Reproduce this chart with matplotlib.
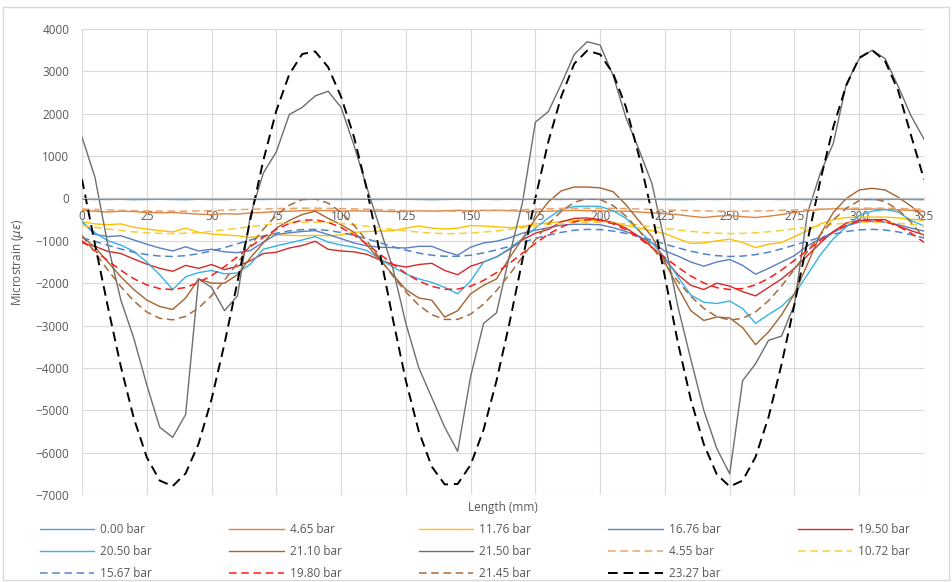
import matplotlib
matplotlib.use("Agg")
import matplotlib.pyplot as plt
from matplotlib.patches import Rectangle

plt.rcParams['font.family'] = ['Open Sans', 'DejaVu Sans']

# Length positions (mm)
length_mm = list(range(0, 330, 5))

# Measured series (solid)
bar_000 = [-20, -25, -25, -20, -30, -25, -20, -25, -30, -20, -25,
           -25, -20, -20, -25, -20, -20, -25, -20, -20, -25, -20,
           -20, -25, -20, -20, -25, -30, -25, -20, -25, -20, -25,
           -20, -25, -20, -20, -25, -20, -20, -25, -20, -20, -25,
           -20, -25, -30, -25, -20, -25, -20, -25, -20, -20, -25,
           -20, -25, -20, -20, -25, -20, -30, -25, -20, -25, -30]
bar_465 = [-280, -300, -320, -300, -310, -330, -340, -330, -350, -370, -380,
           -360, -370, -340, -330, -310, -300, -290, -280, -290, -300, -290,
           -300, -300, -310, -300, -290, -300, -290, -280, -290, -280, -280,
           -290, -300, -310, -300, -290, -280, -290, -290, -300, -300, -320,
           -340, -360, -380, -420, -450, -420, -400, -430, -450, -420, -380,
           -330, -290, -260, -240, -250, -260, -250, -260, -270, -280, -300]
bar_1176 = [-550, -600, -620, -600, -680, -720, -760, -790, -700, -800, -840,
            -860, -880, -920, -880, -860, -870, -880, -870, -880, -860, -800,
            -780, -770, -760, -700, -650, -700, -720, -700, -640, -650, -670,
            -690, -660, -600, -580, -540, -520, -510, -520, -570, -640, -700,
            -760, -830, -950, -1060, -1050, -1000, -960, -1040, -1160, -1080, -1040,
            -900, -760, -600, -500, -450, -440, -440, -440, -460, -490, -520]
bar_1676 = [-550, -850, -900, -880, -980, -1080, -1170, -1240, -1140, -1240, -1200,
            -1260, -1280, -1230, -1030, -850, -810, -780, -760, -850, -950, -1050,
            -1120, -1150, -1160, -1170, -1130, -1130, -1250, -1340, -1150, -1050, -1010,
            -930, -820, -750, -690, -630, -610, -610, -620, -690, -780, -900,
            -1050, -1240, -1360, -1500, -1600, -1500, -1440, -1580, -1790, -1650, -1500,
            -1350, -1120, -950, -800, -650, -560, -540, -560, -620, -700, -770]
bar_1950 = [-1050, -1130, -1250, -1300, -1430, -1550, -1650, -1720, -1580, -1650, -1560,
            -1680, -1600, -1470, -1300, -1270, -1170, -1110, -1010, -1200, -1240, -1260,
            -1320, -1450, -1560, -1620, -1560, -1530, -1700, -1800, -1600, -1500, -1380,
            -1200, -980, -820, -730, -550, -470, -460, -500, -570, -700, -900,
            -1150, -1440, -1800, -2050, -2150, -2000, -2070, -2200, -2300, -2100, -1900,
            -1650, -1350, -1050, -780, -580, -520, -500, -500, -650, -760, -860]
bar_2050 = [-550, -810, -1000, -1100, -1250, -1500, -1800, -2150, -1850, -1750, -1700,
            -1780, -1760, -1550, -1200, -1120, -1050, -980, -900, -1030, -1100, -1150,
            -1230, -1430, -1620, -1780, -1900, -1980, -2100, -2250, -1950, -1500, -1380,
            -1180, -950, -700, -460, -260, -190, -180, -190, -290, -470, -760,
            -1050, -1400, -1850, -2280, -2450, -2480, -2420, -2600, -2950, -2740, -2550,
            -2250, -1800, -1330, -950, -670, -400, -300, -260, -320, -520, -650]
bar_2110 = [-900, -1150, -1500, -1850, -2150, -2400, -2550, -2620, -2350, -1900, -2000,
            -2000, -1800, -1400, -1050, -700, -520, -380, -300, -470, -620, -800,
            -1100, -1450, -1800, -2150, -2350, -2400, -2800, -2650, -2250, -2050, -1900,
            -1400, -950, -480, -80, 180, 270, 270, 250, 160, -150, -530,
            -900, -1500, -2100, -2650, -2880, -2800, -2820, -3050, -3450, -3150, -2750,
            -2250, -1550, -850, -330, 0, 200, 240, 200, 30, -180, -450]
bar_2150 = [1450, 500, -1100, -2400, -3300, -4400, -5400, -5640, -5100, -1900, -2100,
            -2650, -2300, -400, 600, 1100, 1980, 2150, 2420, 2530, 2150, 1250,
            250, -700, -1650, -2950, -4000, -4700, -5400, -5970, -4200, -2950, -2700,
            -1350, -100, 1800, 2050, 2700, 3400, 3700, 3620, 2900, 1900, 1150,
            350, -1050, -2550, -3800, -5000, -5900, -6500, -4300, -3900, -3350, -3250,
            -2500, -350, 600, 1300, 2700, 3300, 3500, 3300, 2650, 1950, 1400]

# Model series (dashed)
bar_455 = [-250, -260, -270, -280, -290, -295, -300, -300, -300, -295, -285,
           -275, -265, -255, -250, -240, -235, -230, -230, -235, -240, -245,
           -255, -265, -275, -285, -290, -295, -300, -300, -295, -290, -285,
           -275, -265, -255, -245, -235, -230, -230, -230, -235, -240, -250,
           -260, -270, -280, -285, -295, -300, -300, -300, -295, -290, -280,
           -270, -260, -250, -240, -235, -230, -230, -230, -235, -245, -255]
bar_1072 = [-640, -680, -720, -755, -790, -810, -825, -830, -820, -805, -775,
            -740, -705, -665, -630, -595, -575, -560, -560, -570, -590, -620,
            -655, -695, -730, -765, -795, -820, -830, -830, -815, -795, -765,
            -730, -690, -650, -615, -590, -570, -560, -565, -575, -600, -630,
            -670, -705, -745, -775, -805, -820, -830, -825, -810, -785, -755,
            -715, -680, -640, -610, -580, -565, -560, -565, -585, -615, -645]
bar_1567 = [-925, -1015, -1105, -1195, -1270, -1325, -1360, -1370, -1350, -1305, -1240,
            -1160, -1070, -980, -890, -820, -765, -735, -730, -755, -805, -870,
            -955, -1045, -1140, -1220, -1290, -1340, -1365, -1365, -1340, -1285, -1215,
            -1130, -1040, -945, -865, -800, -750, -730, -735, -770, -825, -900,
            -985, -1080, -1165, -1245, -1310, -1350, -1370, -1360, -1325, -1270, -1190,
            -1100, -1010, -920, -845, -780, -740, -730, -745, -790, -855, -935]
bar_1980 = [-1000, -1235, -1470, -1695, -1895, -2040, -2130, -2150, -2100, -1985, -1820,
            -1610, -1375, -1140, -915, -730, -590, -515, -505, -565, -685, -865,
            -1080, -1315, -1550, -1770, -1950, -2075, -2145, -2140, -2070, -1935, -1750,
            -1530, -1295, -1060, -845, -675, -550, -500, -515, -600, -740, -935,
            -1160, -1395, -1625, -1830, -1995, -2105, -2150, -2125, -2040, -1890, -1690,
            -1460, -1225, -990, -790, -635, -530, -500, -540, -655, -820, -1035]
bar_2145 = [-875, -1275, -1690, -2080, -2420, -2680, -2830, -2865, -2785, -2585, -2295,
            -1930, -1525, -1110, -725, -400, -160, -25, -10, -110, -325, -635,
            -1005, -1420, -1830, -2205, -2520, -2745, -2855, -2855, -2730, -2495, -2175,
            -1795, -1380, -970, -600, -305, -90, -5, -25, -170, -420, -755,
            -1145, -1560, -1955, -2310, -2595, -2790, -2870, -2830, -2675, -2415, -2070,
            -1670, -1255, -855, -505, -230, -50, 0, -75, -265, -560, -930]
bar_2327 = [450, -1080, -2560, -3970, -5190, -6110, -6660, -6790, -6490, -5790, -4740,
            -3430, -1970, -490, 900, 2070, 2930, 3410, 3470, 3100, 2400, 1450,
            200, -1300, -2850, -4300, -5500, -6330, -6750, -6740, -6290, -5460, -4300,
            -2940, -1450, 10, 1340, 2410, 3180, 3490, 3400, 2950, 2150, 1000,
            -350, -1850, -3400, -4750, -5800, -6510, -6800, -6660, -6100, -5160, -3920,
            -2500, -1010, 430, 1690, 2670, 3320, 3500, 3240, 2550, 1490, 450]

series = [
    ("0.00 bar", bar_000, '#5B9BD5', '-'),
    ("4.65 bar", bar_465, '#E0823F', '-'),
    ("11.76 bar", bar_1176, '#FFC000', '-'),
    ("16.76 bar", bar_1676, '#5A7EC4', '-'),
    ("19.50 bar", bar_1950, '#D42A2A', '-'),
    ("20.50 bar", bar_2050, '#35B3E6', '-'),
    ("21.10 bar", bar_2110, '#A5632F', '-'),
    ("21.50 bar", bar_2150, '#6E6E6E', '-'),
    ("4.55 bar", bar_455, '#E8A46E', '--'),
    ("10.72 bar", bar_1072, '#F5CF3A', '--'),
    ("15.67 bar", bar_1567, '#4F86C6', '--'),
    ("19.80 bar", bar_1980, '#FF1A1A', '--'),
    ("21.45 bar", bar_2145, '#A86B3C', '--'),
    ("23.27 bar", bar_2327, '#000000', '--'),
]

fig = plt.figure(figsize=(9.52, 5.82), dpi=100)
ax = fig.add_axes([82 / 952, 1 - 495 / 582, 842 / 952, 466 / 582])

handles = []
for label, vals, color, ls in series:
    if ls == '--':
        lw = 1.4 if color == '#000000' else 1.1
        line, = ax.plot(length_mm, vals, color=color, lw=lw, dashes=(5, 3), label=label)
    else:
        line, = ax.plot(length_mm, vals, color=color, lw=1.0, label=label)
    handles.append(line)

ax.set_xlim(0, 325)
ax.set_ylim(-7000, 4000)
ax.set_xticks(range(0, 326, 25))
ax.set_yticks(range(-7000, 4001, 1000))
ax.grid(color='#D9D9D9', lw=0.8)
ax.set_axisbelow(True)
for side in ['left', 'right', 'top']:
    ax.spines[side].set_visible(False)
ax.spines['bottom'].set_position(('data', 0))
ax.spines['bottom'].set_color('#BFBFBF')
ax.tick_params(length=0, labelsize=8.5, labelcolor='#595959')
ax.tick_params(axis='x', pad=8.5)
ax.tick_params(axis='y', pad=9)

fig.text(18 / 952, 1 - 262 / 582, r'Microstrain ($\mu\varepsilon$)', rotation=90,
         ha='center', va='center', fontsize=8.5, color='#595959')
fig.text(503 / 952, 1 - 508 / 582, 'Length (mm)', ha='center', va='center',
         fontsize=8.5, color='#595959')

# legend laid out row by row like the original (5 columns)
order = [0, 5, 10, 1, 6, 11, 2, 7, 12, 3, 8, 13, 4, 9]
leg = fig.legend([handles[i] for i in order], [series[i][0] for i in order],
                 ncol=5, loc='upper left', bbox_to_anchor=(40 / 952, 1 - 523 / 582),
                 frameon=False, fontsize=8.5, handlelength=4.6, handletextpad=0.5,
                 columnspacing=6.55, labelspacing=0.75, borderpad=0, borderaxespad=0)
for t in leg.get_texts():
    t.set_color('#595959')

fig.patches.append(Rectangle((3 / 952, 2 / 582), 946 / 952, 573 / 582,
                             transform=fig.transFigure, fill=False,
                             edgecolor='#D9D9D9', lw=1.0))

fig.savefig('out.png', dpi=100)
